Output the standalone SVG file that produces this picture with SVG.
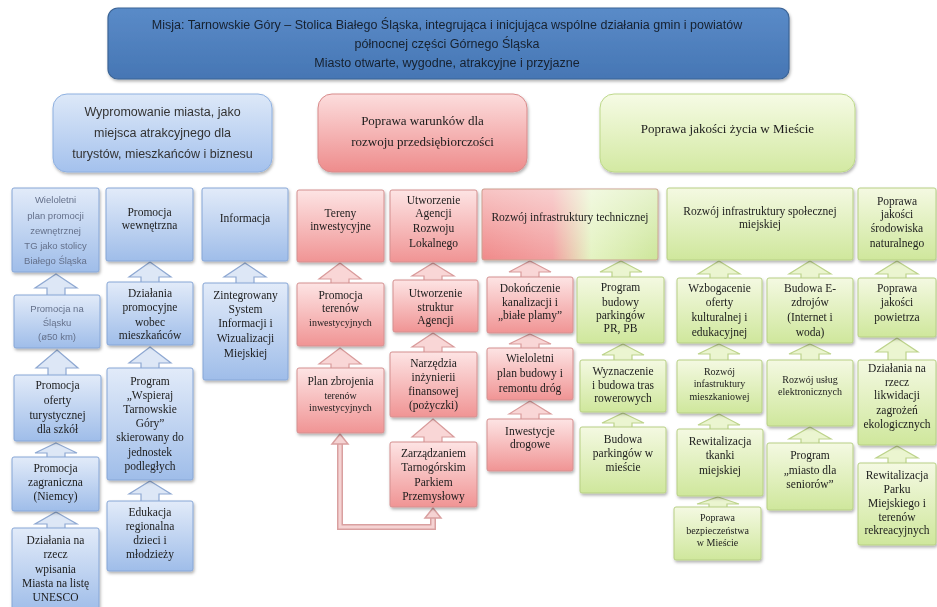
<svg xmlns="http://www.w3.org/2000/svg" width="937" height="607" viewBox="0 0 937 607">
<defs>
<linearGradient id="gM" x1="0" y1="0" x2="0" y2="1"><stop offset="0" stop-color="#5a8bc8"/><stop offset="1" stop-color="#4676b4"/></linearGradient>
<linearGradient id="gB2" x1="0" y1="0" x2="0" y2="1"><stop offset="0" stop-color="#dde8f8"/><stop offset="1" stop-color="#a4c1ed"/></linearGradient>
<linearGradient id="gR2" x1="0" y1="0" x2="0" y2="1"><stop offset="0" stop-color="#fcdddd"/><stop offset="1" stop-color="#ee8c8c"/></linearGradient>
<linearGradient id="gG2" x1="0" y1="0" x2="0" y2="1"><stop offset="0" stop-color="#f6fbe5"/><stop offset="1" stop-color="#d3e9a2"/></linearGradient>
<linearGradient id="gB" x1="0" y1="0" x2="0" y2="1"><stop offset="0" stop-color="#e2ebf9"/><stop offset="1" stop-color="#9fbde9"/></linearGradient>
<linearGradient id="gR" x1="0" y1="0" x2="0" y2="1"><stop offset="0" stop-color="#fde4e4"/><stop offset="1" stop-color="#f09494"/></linearGradient>
<linearGradient id="gG" x1="0" y1="0" x2="0" y2="1"><stop offset="0" stop-color="#f4f9e2"/><stop offset="1" stop-color="#cfe79c"/></linearGradient>
<linearGradient id="gT" x1="0" y1="0" x2="1" y2="0"><stop offset="0" stop-color="#f08a8a"/><stop offset="0.4" stop-color="#f2a0a0"/><stop offset="0.62" stop-color="#e4f3c2"/><stop offset="1" stop-color="#cde69a"/></linearGradient>
<linearGradient id="gW" x1="0" y1="0" x2="0" y2="1"><stop offset="0" stop-color="#ffffff" stop-opacity="0.5"/><stop offset="1" stop-color="#ffffff" stop-opacity="0"/></linearGradient>
<filter id="sh" x="-10%" y="-10%" width="130%" height="130%"><feDropShadow dx="1" dy="2" stdDeviation="1.5" flood-color="#000" flood-opacity="0.3"/></filter>
<style>
.bx{filter:url(#sh)}
.b{fill:url(#gB);stroke:#86a6d6;stroke-width:1}
.r{fill:url(#gR);stroke:#d49090;stroke-width:1}
.g{fill:url(#gG);stroke:#b7cf84;stroke-width:1}
.ab{fill:#dde7f6;stroke:#8ea8d2;stroke-width:1.2}
.ar{fill:#f9d6d6;stroke:#d99b9b;stroke-width:1.2}
.ag{fill:#ebf5d0;stroke:#bdd38b;stroke-width:1.2}
.sf{font-family:"Liberation Serif",serif;font-size:11.5px;fill:#1c1c1c;text-anchor:middle}
.sm{font-family:"Liberation Serif",serif;font-size:10px;fill:#1c1c1c;text-anchor:middle}
.ss{font-family:"Liberation Sans",sans-serif;font-size:9.5px;fill:#64708a;text-anchor:middle}
.mt{font-family:"Liberation Sans",sans-serif;font-size:12.5px;fill:#16202e;text-anchor:middle}
.t2s{font-family:"Liberation Sans",sans-serif;font-size:12.5px;fill:#333;text-anchor:middle}
.t2r{font-family:"Liberation Serif",serif;font-size:13px;fill:#1c1c1c;text-anchor:middle}
</style>
</defs>
<rect width="937" height="607" fill="#ffffff"/>

<g id="connectors">
<polygon class="ab" points="56,274 77,288 65,288 65,301 47,301 47,288 35,288"/>
<polygon class="ab" points="150,262 171,277 159,277 159,288 141,288 141,277 129,277"/>
<polygon class="ab" points="245,263 266,277 254,277 254,289 236,289 236,277 224,277"/>
<polygon class="ab" points="57,350 78,368 66,368 66,381 48,381 48,368 36,368"/>
<polygon class="ab" points="150,347 171,363 159,363 159,374 141,374 141,363 129,363"/>
<polygon class="ab" points="56,443 77,453 65,453 65,463 47,463 47,453 35,453"/>
<polygon class="ab" points="150,481 171,494 159,494 159,507 141,507 141,494 129,494"/>
<polygon class="ab" points="56,512 77,524 65,524 65,534 47,534 47,524 35,524"/>
<polygon class="ar" points="340,263 361,279 349,279 349,289 331,289 331,279 319,279"/>
<polygon class="ar" points="433,263 454,276 442,276 442,286 424,286 424,276 412,276"/>
<polygon class="ar" points="340,348 361,364 349,364 349,374 331,374 331,364 319,364"/>
<polygon class="ar" points="433,333 454,347 442,347 442,358 424,358 424,347 412,347"/>
<polygon class="ar" points="433,419 454,437 442,437 442,448 424,448 424,437 412,437"/>
<polygon class="ar" points="530,261 551,272 539,272 539,283 521,283 521,272 509,272"/>
<polygon class="ag" points="621,261 642,272 630,272 630,283 612,283 612,272 600,272"/>
<polygon class="ar" points="530,334 551,344 539,344 539,354 521,354 521,344 509,344"/>
<polygon class="ag" points="623,344 644,355 632,355 632,366 614,366 614,355 602,355"/>
<polygon class="ar" points="530,401 551,414 539,414 539,425 521,425 521,414 509,414"/>
<polygon class="ag" points="623,413 644,423 632,423 632,433 614,433 614,423 602,423"/>
<polygon class="ag" points="719,261 740,274 728,274 728,284 710,284 710,274 698,274"/>
<polygon class="ag" points="810,261 831,274 819,274 819,284 801,284 801,274 789,274"/>
<polygon class="ag" points="897,261 918,274 906,274 906,284 888,284 888,274 876,274"/>
<polygon class="ag" points="719,344 740,354 728,354 728,366 710,366 710,354 698,354"/>
<polygon class="ag" points="810,344 831,354 819,354 819,366 801,366 801,354 789,354"/>
<polygon class="ag" points="897,338 918,352 906,352 906,366 888,366 888,352 876,352"/>
<polygon class="ag" points="719,414 740,425 728,425 728,435 710,435 710,425 698,425"/>
<polygon class="ag" points="810,427 831,439 819,439 819,449 801,449 801,439 789,439"/>
<polygon class="ag" points="897,446 918,458 906,458 906,469 888,469 888,458 876,458"/>
<polygon class="ag" points="718,497 739,504 727,504 727,513 709,513 709,504 697,504"/>
<g id="loop">
<path d="M340,441 V527 H433 V515" fill="none" stroke="#d9a0a0" stroke-width="6"/>
<path d="M340,441 V527 H433 V515" fill="none" stroke="#f5d3d3" stroke-width="3"/>
<polygon points="340,434 348,444 332,444" fill="#f5d3d3" stroke="#d9a0a0" stroke-width="1.5"/>
<polygon points="433,508 441,518 425,518" fill="#f5d3d3" stroke="#d9a0a0" stroke-width="1.5"/>
</g>
</g>

<g id="mission" class="bx">
<rect x="108" y="8" width="681" height="71" rx="10" fill="url(#gM)" stroke="#3b6496" stroke-width="1.2"/>
<text class="mt" x="447" y="29">Misja: Tarnowskie Góry – Stolica Białego Śląska, integrująca i inicjująca wspólne działania gmin i powiatów</text>
<text class="mt" x="447" y="48">północnej części Górnego Śląska</text>
<text class="mt" x="447" y="67">Miasto otwarte, wygodne, atrakcyjne i przyjazne</text>
</g>

<g id="goal-blue" class="bx">
<rect x="53" y="94" width="219" height="78" rx="14" fill="url(#gB2)" stroke="#8eb0e0"/>
<text class="t2s" x="162.5" y="116">Wypromowanie miasta, jako</text>
<text class="t2s" x="162.5" y="137">miejsca atrakcyjnego dla</text>
<text class="t2s" x="162.5" y="158">turystów, mieszkańców i biznesu</text>
</g>
<g id="goal-red" class="bx">
<rect x="318" y="94" width="209" height="78" rx="14" fill="url(#gR2)" stroke="#d88b8b"/>
<text class="t2r" x="422.5" y="125">Poprawa warunków dla</text>
<text class="t2r" x="422.5" y="146">rozwoju przedsiębiorczości</text>
</g>
<g id="goal-green" class="bx">
<rect x="600" y="94" width="255" height="78" rx="14" fill="url(#gG2)" stroke="#bdd88a"/>
<text class="t2r" x="727.5" y="133">Poprawa jakości życia w Mieście</text>
</g>

<g id="b1" class="bx"><rect class="b" x="12" y="188" width="87" height="84" rx="2"/>
<text class="ss" x="55.5" y="203">Wieloletni</text><text class="ss" x="55.5" y="219">plan promocji</text><text class="ss" x="55.5" y="234">zewnętrznej</text><text class="ss" x="55.5" y="249">TG jako stolicy</text><text class="ss" x="55.5" y="264">Białego Śląska</text></g>
<g id="b2" class="bx"><rect class="b" x="106" y="188" width="87" height="73" rx="2"/>
<text class="sf" x="149.5" y="216">Promocja</text><text class="sf" x="149.5" y="229">wewnętrzna</text></g>
<g id="b3" class="bx"><rect class="b" x="202" y="188" width="86" height="73" rx="2"/>
<text class="sf" x="245" y="222">Informacja</text></g>
<g id="b4" class="bx"><rect class="b" x="14" y="295" width="86" height="53" rx="2"/>
<text class="ss" x="57" y="312">Promocja na</text><text class="ss" x="57" y="326">Śląsku</text><text class="ss" x="57" y="340">(ø50 km)</text></g>
<g id="b5" class="bx"><rect class="b" x="107" y="282" width="86" height="63" rx="2"/>
<text class="sf" x="150" y="297">Działania</text><text class="sf" x="150" y="311">promocyjne</text><text class="sf" x="150" y="326">wobec</text><text class="sf" x="150" y="339">mieszkańców</text></g>
<g id="b6" class="bx"><rect class="b" x="203" y="283" width="85" height="97" rx="2"/>
<text class="sf" x="245.5" y="299">Zintegrowany</text><text class="sf" x="245.5" y="313">System</text><text class="sf" x="245.5" y="327">Informacji i</text><text class="sf" x="245.5" y="342">Wizualizacji</text><text class="sf" x="245.5" y="357">Miejskiej</text></g>
<g id="b7" class="bx"><rect class="b" x="14" y="375" width="87" height="66" rx="2"/>
<text class="sf" x="57.5" y="389">Promocja</text><text class="sf" x="57.5" y="404">oferty</text><text class="sf" x="57.5" y="419">turystycznej</text><text class="sf" x="57.5" y="433">dla szkół</text></g>
<g id="b8" class="bx"><rect class="b" x="107" y="368" width="86" height="112" rx="2"/>
<text class="sf" x="150" y="385">Program</text><text class="sf" x="150" y="399">„Wspieraj</text><text class="sf" x="150" y="413">Tarnowskie</text><text class="sf" x="150" y="427">Góry”</text><text class="sf" x="150" y="441">skierowany do</text><text class="sf" x="150" y="456">jednostek</text><text class="sf" x="150" y="470">podległych</text></g>
<g id="b9" class="bx"><rect class="b" x="12" y="457" width="87" height="54" rx="2"/>
<text class="sf" x="55.5" y="472">Promocja</text><text class="sf" x="55.5" y="486">zagraniczna</text><text class="sf" x="55.5" y="500">(Niemcy)</text></g>
<g id="b10" class="bx"><rect class="b" x="107" y="501" width="86" height="70" rx="2"/>
<text class="sf" x="150" y="516">Edukacja</text><text class="sf" x="150" y="530">regionalna</text><text class="sf" x="150" y="544">dzieci i</text><text class="sf" x="150" y="558">młodzieży</text></g>
<g id="b11" class="bx"><rect class="b" x="12" y="528" width="87" height="84" rx="2"/>
<text class="sf" x="55.5" y="544">Działania na</text><text class="sf" x="55.5" y="558">rzecz</text><text class="sf" x="55.5" y="573">wpisania</text><text class="sf" x="55.5" y="587">Miasta na listę</text><text class="sf" x="55.5" y="601">UNESCO</text></g>

<g id="r1" class="bx"><rect class="r" x="297" y="190" width="87" height="72" rx="2"/>
<text class="sf" x="340.5" y="217">Tereny</text><text class="sf" x="340.5" y="230">inwestycyjne</text></g>
<g id="r2" class="bx"><rect class="r" x="390" y="190" width="87" height="72" rx="2"/>
<text class="sf" x="433.5" y="204">Utworzenie</text><text class="sf" x="433.5" y="217">Agencji</text><text class="sf" x="433.5" y="232">Rozwoju</text><text class="sf" x="433.5" y="247">Lokalnego</text></g>
<g id="r3" class="bx"><rect class="r" x="297" y="283" width="87" height="63" rx="2"/>
<text class="sf" x="340.5" y="299">Promocja</text><text class="sf" x="340.5" y="312">terenów</text><text class="sm" x="340.5" y="326">inwestycyjnych</text></g>
<g id="r4" class="bx"><rect class="r" x="393" y="280" width="85" height="52" rx="2"/>
<text class="sf" x="435.5" y="297">Utworzenie</text><text class="sf" x="435.5" y="311">struktur</text><text class="sf" x="435.5" y="324">Agencji</text></g>
<g id="r5" class="bx"><rect class="r" x="297" y="368" width="87" height="65" rx="2"/>
<text class="sf" x="340.5" y="385">Plan zbrojenia</text><text class="sm" x="340.5" y="399">terenów</text><text class="sm" x="340.5" y="411">inwestycyjnych</text></g>
<g id="r6" class="bx"><rect class="r" x="390" y="352" width="87" height="65" rx="2"/>
<text class="sf" x="433.5" y="367">Narzędzia</text><text class="sf" x="433.5" y="381">inżynierii</text><text class="sf" x="433.5" y="395">finansowej</text><text class="sf" x="433.5" y="409">(pożyczki)</text></g>
<g id="r7" class="bx"><rect class="r" x="390" y="442" width="87" height="65" rx="2"/>
<text class="sf" x="433.5" y="457">Zarządzaniem</text><text class="sf" x="433.5" y="471">Tarnogórskim</text><text class="sf" x="433.5" y="486">Parkiem</text><text class="sf" x="433.5" y="500">Przemysłowy</text></g>

<g id="t1" class="bx"><rect x="482" y="189" width="176" height="71" rx="2" fill="url(#gT)" stroke="#c9a08f"/>
<rect x="482.5" y="189.5" width="175" height="70" rx="2" fill="url(#gW)"/>
<text class="sf" x="570" y="221">Rozwój infrastruktury technicznej</text></g>
<g id="t2" class="bx"><rect class="r" x="487" y="277" width="86" height="56" rx="2"/>
<text class="sf" x="530" y="292">Dokończenie</text><text class="sf" x="530" y="306">kanalizacji i</text><text class="sf" x="530" y="319">„białe plamy”</text></g>
<g id="t3" class="bx"><rect class="g" x="577" y="277" width="87" height="66" rx="2"/>
<text class="sf" x="620.5" y="291">Program</text><text class="sf" x="620.5" y="306">budowy</text><text class="sf" x="620.5" y="319">parkingów</text><text class="sf" x="620.5" y="332">PR, PB</text></g>
<g id="t4" class="bx"><rect class="r" x="487" y="348" width="86" height="52" rx="2"/>
<text class="sf" x="530" y="362">Wieloletni</text><text class="sf" x="530" y="377">plan budowy i</text><text class="sf" x="530" y="392">remontu dróg</text></g>
<g id="t5" class="bx"><rect class="g" x="580" y="360" width="86" height="52" rx="2"/>
<text class="sf" x="623" y="375">Wyznaczenie</text><text class="sf" x="623" y="389">i budowa tras</text><text class="sf" x="623" y="402">rowerowych</text></g>
<g id="t6" class="bx"><rect class="r" x="487" y="419" width="86" height="52" rx="2"/>
<text class="sf" x="530" y="435">Inwestycje</text><text class="sf" x="530" y="448">drogowe</text></g>
<g id="t7" class="bx"><rect class="g" x="580" y="427" width="86" height="66" rx="2"/>
<text class="sf" x="623" y="443">Budowa</text><text class="sf" x="623" y="457">parkingów w</text><text class="sf" x="623" y="471">mieście</text></g>

<g id="s1" class="bx"><rect class="g" x="667" y="188" width="186" height="72" rx="2"/>
<text class="sf" x="760" y="215">Rozwój infrastruktury społecznej</text><text class="sf" x="760" y="228">miejskiej</text></g>
<g id="s2" class="bx"><rect class="g" x="858" y="188" width="78" height="72" rx="2"/>
<text class="sf" x="897" y="205">Poprawa</text><text class="sf" x="897" y="218">jakości</text><text class="sf" x="897" y="232">środowiska</text><text class="sf" x="897" y="247">naturalnego</text></g>
<g id="s3" class="bx"><rect class="g" x="677" y="278" width="85" height="65" rx="2"/>
<text class="sf" x="719.5" y="292">Wzbogacenie</text><text class="sf" x="719.5" y="306">oferty</text><text class="sf" x="719.5" y="321">kulturalnej i</text><text class="sf" x="719.5" y="336">edukacyjnej</text></g>
<g id="s4" class="bx"><rect class="g" x="767" y="278" width="86" height="65" rx="2"/>
<text class="sf" x="810" y="292">Budowa E-</text><text class="sf" x="810" y="306">zdrojów</text><text class="sf" x="810" y="321">(Internet i</text><text class="sf" x="810" y="336">woda)</text></g>
<g id="s5" class="bx"><rect class="g" x="858" y="278" width="78" height="59" rx="2"/>
<text class="sf" x="897" y="292">Poprawa</text><text class="sf" x="897" y="306">jakości</text><text class="sf" x="897" y="321">powietrza</text></g>
<g id="s6" class="bx"><rect class="g" x="677" y="360" width="85" height="53" rx="2"/>
<text class="sm" x="719.5" y="375">Rozwój</text><text class="sm" x="719.5" y="387">infastruktury</text><text class="sm" x="719.5" y="400">mieszkaniowej</text></g>
<g id="s7" class="bx"><rect class="g" x="767" y="360" width="86" height="66" rx="2"/>
<text class="sm" x="810" y="383">Rozwój usług</text><text class="sm" x="810" y="395">elektronicznych</text></g>
<g id="s8" class="bx"><rect class="g" x="858" y="360" width="78" height="85" rx="2"/>
<text class="sf" x="897" y="372">Działania na</text><text class="sf" x="897" y="386">rzecz</text><text class="sf" x="897" y="399">likwidacji</text><text class="sf" x="897" y="414">zagrożeń</text><text class="sf" x="897" y="428">ekologicznych</text></g>
<g id="s9" class="bx"><rect class="g" x="677" y="429" width="86" height="67" rx="2"/>
<text class="sf" x="720" y="445">Rewitalizacja</text><text class="sf" x="720" y="459">tkanki</text><text class="sf" x="720" y="474">miejskiej</text></g>
<g id="s10" class="bx"><rect class="g" x="767" y="443" width="86" height="67" rx="2"/>
<text class="sf" x="810" y="459">Program</text><text class="sf" x="810" y="474">„miasto dla</text><text class="sf" x="810" y="488">seniorów”</text></g>
<g id="s11" class="bx"><rect class="g" x="858" y="463" width="78" height="82" rx="2"/>
<text class="sf" x="897" y="479">Rewitalizacja</text><text class="sf" x="897" y="493">Parku</text><text class="sf" x="897" y="507">Miejskiego i</text><text class="sf" x="897" y="521">terenów</text><text class="sf" x="897" y="534">rekreacyjnych</text></g>
<g id="s12" class="bx"><rect class="g" x="674" y="507" width="87" height="53" rx="2"/>
<text class="sm" x="717.5" y="521">Poprawa</text><text class="sm" x="717.5" y="534">bezpieczeństwa</text><text class="sm" x="717.5" y="546">w Mieście</text></g>
</svg>
